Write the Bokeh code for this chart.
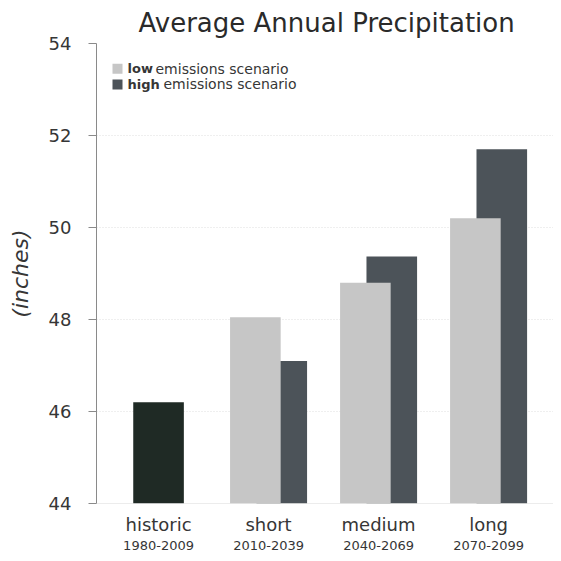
from bokeh.plotting import figure
from bokeh.models import FixedTicker, LinearAxis, ColumnDataSource, Range1d, Span
from bokeh.core.properties import value
from bokeh.transform import dodge
from bokeh.embed import file_html
from bokeh.resources import INLINE

# ---- data ----
periods = ["historic", "short", "medium", "long"]
years = ["1980-2009", "2010-2039", "2040-2069", "2070-2099"]
historic_value = [46.2]
scen_periods = [1, 2, 3]
low_values = [48.05, 48.8, 50.2]
high_values = [47.1, 49.37, 51.7]
y_ticks = [44, 46, 48, 50, 52, 54]

FONT = "DejaVu Sans"
TXT = "#363636"
C_HIST = "#1f2a25"
C_LOW = "#c6c6c6"
C_HIGH = "#4c5359"

X0, X1 = -0.564, 3.59
p = figure(width=553, height=553, output_backend="svg", toolbar_location=None,
           x_range=Range1d(X0, X1), y_range=Range1d(44, 54),
           min_border_left=96, min_border_top=43, min_border_bottom=50, min_border_right=0)
p.outline_line_color = None
p.background_fill_color = "white"
p.border_fill_color = "white"

# title
p.title.text = "Average Annual Precipitation"
p.title.text_font = FONT
p.title.text_font_style = "normal"
p.title.text_font_size = "26px"
p.title.text_color = "#2a2a2a"
p.title.align = "left"
p.title.offset = 42
p.title.standoff = 11

# bars
p.vbar(x=[0], top=historic_value, bottom=44, width=0.46, fill_color=C_HIST, line_color=None)
src = ColumnDataSource(dict(x=scen_periods, low=low_values, high=high_values))
p.vbar(x=dodge("x", 0.12, range=p.x_range), top="high", bottom=44, width=0.46, source=src,
       fill_color=C_HIGH, line_color=None)
p.vbar(x=dodge("x", -0.12, range=p.x_range), top="low", bottom=44, width=0.46, source=src,
       fill_color=C_LOW, line_color=None)

# grid
p.xgrid.grid_line_color = None
p.ygrid.ticker = FixedTicker(ticks=y_ticks)
p.ygrid.grid_line_color = "#dedede"
p.ygrid.grid_line_dash = "1 2"
p.ygrid.grid_line_width = 1
p.add_layout(Span(location=44, dimension="width", line_color="#b5b5b5",
                  line_dash="1 1", line_width=1))

# y axis
ya = p.yaxis[0]
ya.ticker = FixedTicker(ticks=y_ticks)
ya.axis_line_color = "#8a8a8a"
ya.major_tick_line_color = "#8a8a8a"
ya.major_tick_out = 8
ya.major_tick_in = 0
ya.minor_tick_line_color = None
ya.major_label_text_font = FONT
ya.major_label_text_font_size = "18px"
ya.major_label_text_color = TXT
ya.major_label_standoff = 17
ya.axis_label = "(inches)"
ya.axis_label_text_font = FONT
ya.axis_label_text_font_style = "italic"
ya.axis_label_text_font_size = "22px"
ya.axis_label_text_color = TXT
ya.axis_label_standoff = 13

# x axes: names and years
xa = p.xaxis[0]
xa.ticker = FixedTicker(ticks=[0, 1, 2, 3])
xa.major_label_overrides = {i: n for i, n in enumerate(periods)}
xa.axis_line_color = None
xa.major_tick_line_color = None
xa.major_tick_out = 0
xa.major_tick_in = 0
xa.minor_tick_line_color = None
xa.major_label_text_font = FONT
xa.major_label_text_font_size = "18px"
xa.major_label_text_color = TXT
xa.major_label_standoff = 10

xa2 = LinearAxis(ticker=FixedTicker(ticks=[0, 1, 2, 3]),
                 major_label_overrides={i: y for i, y in enumerate(years)})
xa2.axis_line_color = None
xa2.major_tick_line_color = None
xa2.major_tick_out = 0
xa2.major_tick_in = 0
xa2.minor_tick_line_color = None
xa2.major_label_text_font = FONT
xa2.major_label_text_font_size = "13px"
xa2.major_label_text_color = TXT
xa2.major_label_standoff = 3
p.add_layout(xa2, "below")

# legend (manual)
px_per_unit = 457 / (X1 - X0)
ly = [53.45, 53.11]
sq_x = X0 + 21 / px_per_unit
p.rect(x=[sq_x, sq_x], y=ly, width=10, height=10, width_units="screen", height_units="screen",
       fill_color=[C_LOW, C_HIGH], line_color=None)
p.text(x=[X0, X0], y=ly, text=["low", "high"], x_offset=31,
       text_font=value(FONT), text_font_style="bold", text_font_size="13px",
       text_color=TXT, text_baseline="middle", text_align="left")
p.text(x=[X0], y=[ly[0]], text=["emissions scenario"], x_offset=59,
       text_font=value(FONT), text_font_size="14px",
       text_color=TXT, text_baseline="middle", text_align="left")
p.text(x=[X0], y=[ly[1]], text=["emissions scenario"], x_offset=67,
       text_font=value(FONT), text_font_size="14px",
       text_color=TXT, text_baseline="middle", text_align="left")

open("out.html", "w").write(file_html(p, INLINE))
